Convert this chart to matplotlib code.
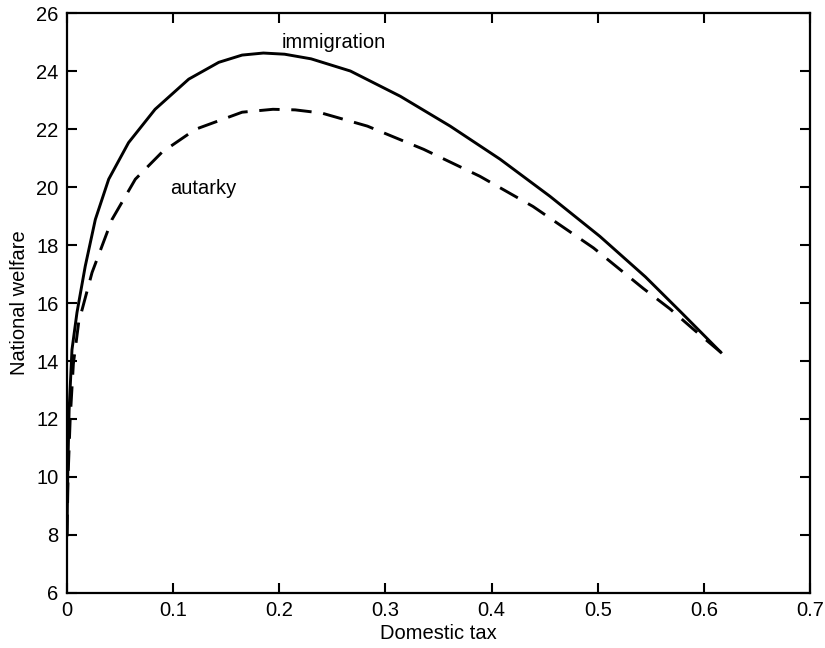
import matplotlib
matplotlib.use("Agg")
import matplotlib.pyplot as plt

plt.rcParams['font.family'] = ['Liberation Sans', 'DejaVu Sans']

tax_immigration = [0.0, 0.0008, 0.002, 0.0047, 0.0094, 0.0172, 0.0267, 0.0393, 0.058, 0.083,
                   0.1147, 0.143, 0.165, 0.185, 0.205, 0.23, 0.267, 0.314, 0.361, 0.408,
                   0.455, 0.502, 0.545, 0.578, 0.616]
welfare_immigration = [8.0, 10.3, 12.3, 14.39, 15.67, 17.27, 18.88, 20.27, 21.53, 22.68,
                       23.72, 24.3, 24.55, 24.62, 24.58, 24.42, 24.0, 23.13, 22.1, 20.96,
                       19.68, 18.3, 16.9, 15.7, 14.3]

tax_autarky = [0.0, 0.001, 0.003, 0.006, 0.011, 0.0236, 0.0424, 0.0644, 0.0895, 0.121,
               0.165, 0.194, 0.215, 0.24, 0.283, 0.336, 0.389, 0.439, 0.496, 0.543,
               0.568, 0.59, 0.616]
welfare_autarky = [8.0, 10.0, 12.0, 13.9, 15.33, 17.05, 18.88, 20.27, 21.2, 21.99,
                   22.58, 22.68, 22.66, 22.55, 22.1, 21.3, 20.37, 19.33, 17.9, 16.5,
                   15.8, 15.1, 14.3]

x_ticks = [0, 0.1, 0.2, 0.3, 0.4, 0.5, 0.6, 0.7]
x_tick_labels = ['0', '0.1', '0.2', '0.3', '0.4', '0.5', '0.6', '0.7']
y_ticks = [6, 8, 10, 12, 14, 16, 18, 20, 22, 24, 26]

FS = 14.5

fig = plt.figure(figsize=(8.25, 6.48), dpi=100)
ax = fig.add_axes([0.0812, 0.0849, 0.9006, 0.895])

ax.plot(tax_immigration, welfare_immigration, color='black', lw=2.1,
        solid_joinstyle='round')
ax.plot(tax_autarky, welfare_autarky, color='black', lw=2.1, linestyle=(0, (7, 4)))

ax.set_xlim(0, 0.7)
ax.set_ylim(6, 26)
ax.set_xticks(x_ticks)
ax.set_xticklabels(x_tick_labels)
ax.set_yticks(y_ticks)

for s in ax.spines.values():
    s.set_linewidth(1.6)
ax.tick_params(direction='in', length=7, width=1.5, top=True, right=True,
               labelsize=FS)
ax.tick_params(axis='x', pad=6)
ax.tick_params(axis='y', pad=6)

ax.set_xlabel('Domestic tax', fontsize=FS, labelpad=3)
ax.set_ylabel('National welfare', fontsize=FS, labelpad=5)

ax.text(0.2026, 25.0, 'immigration', fontsize=FS, va='center', ha='left')
ax.text(0.097, 19.95, 'autarky', fontsize=FS, va='center', ha='left')

fig.savefig('out.png', dpi=100)
